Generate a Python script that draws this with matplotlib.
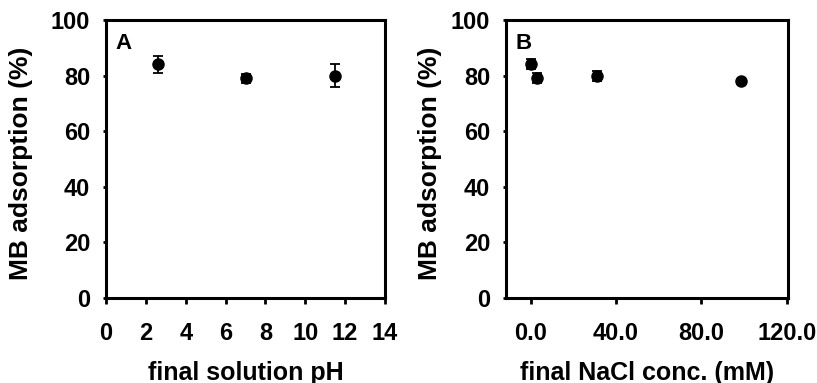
import matplotlib.pyplot as plt

plt.rcParams["font.family"] = ["Liberation Sans", "DejaVu Sans"]
plt.rcParams["font.weight"] = "bold"

# Panel A: adsorption vs final solution pH
ph = [2.6, 7.0, 11.5]
ads_ph = [84, 79, 80]
err_ph = [3.0, 1.5, 4.0]

# Panel B: adsorption vs final NaCl concentration
nacl = [0.0, 3.0, 31.0, 98.5]
ads_nacl = [84, 79, 80, 78]
err_nacl = [1.8, 1.8, 1.8, 0.0]

fig = plt.figure(figsize=(8.17, 3.83), dpi=100)
ax_a = fig.add_axes([106 / 817, 1 - 298 / 383, 279 / 817, 278 / 383])
ax_b = fig.add_axes([506 / 817, 1 - 298 / 383, 282 / 817, 278 / 383])

for ax, x, y, e in [(ax_a, ph, ads_ph, err_ph), (ax_b, nacl, ads_nacl, err_nacl)]:
    ax.errorbar(x, y, yerr=e, fmt="o", color="black", markersize=8,
                elinewidth=1.3, capsize=3.5, capthick=1.3)
    ax.set_ylim(0, 100)
    ax.set_yticks(range(0, 101, 20))
    for s in ax.spines.values():
        s.set_linewidth(2.2)
    ax.tick_params(axis="y", labelsize=17, width=2, length=2.5, pad=9,
                   direction="out")
    ax.tick_params(axis="x", labelsize=17, width=2, length=4, pad=13,
                   direction="out")
    ax.set_ylabel("MB adsorption (%)", fontsize=19, fontweight="bold")

ax_a.set_xlim(0, 14)
ax_a.set_xticks(range(0, 15, 2))
ax_a.set_xlabel("final solution pH", fontsize=18, fontweight="bold")
ax_a.xaxis.set_label_coords(0.5, -0.225)
ax_a.yaxis.set_label_coords(-0.262, 0.485)
ax_a.text(0.035, 0.955, "A", transform=ax_a.transAxes, fontsize=16,
          fontweight="bold", va="top", ha="left")

ax_b.set_xlim(-11.5, 120.5)
ax_b.set_xticks([0, 40, 80, 120])
ax_b.set_xticklabels(["0.0", "40.0", "80.0", "120.0"])
ax_b.set_xlabel("final NaCl conc. (mM)", fontsize=18, fontweight="bold")
ax_b.xaxis.set_label_coords(0.5, -0.225)
ax_b.yaxis.set_label_coords(-0.227, 0.485)
ax_b.text(0.035, 0.955, "B", transform=ax_b.transAxes, fontsize=16,
          fontweight="bold", va="top", ha="left")

fig.savefig("out.png", dpi=100)
